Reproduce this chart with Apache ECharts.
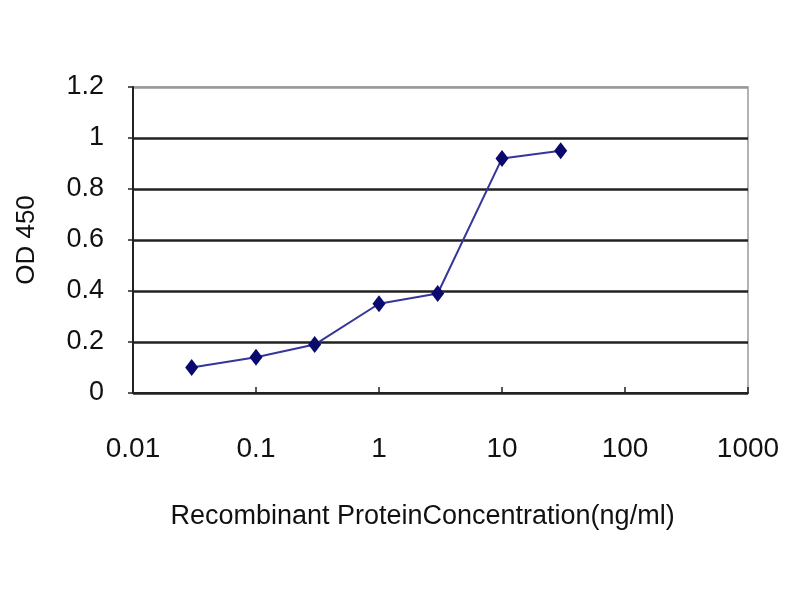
<!DOCTYPE html>
<html>
<head>
<meta charset="utf-8">
<script src="https://cdn.jsdelivr.net/npm/echarts@6/dist/echarts.min.js"></script>
<style>
  html, body { margin: 0; padding: 0; background: #fff; }
  #chart-container { width: 800px; height: 600px; }
</style>
</head>
<body>
<div id="chart-container"></div>
<script>
// concentration (ng/ml) and OD 450 readings
var concentration = [0.03, 0.1, 0.3, 1, 3, 10, 30];
var od450 = [0.10, 0.14, 0.19, 0.35, 0.39, 0.92, 0.95];
var xTickLabels = ['0.01', '0.1', '1', '10', '100', '1000'];
var yTickLabels = ['0', '0.2', '0.4', '0.6', '0.8', '1', '1.2'];

var points = [];
for (var i = 0; i < concentration.length; i++) {
    points.push([concentration[i], od450[i]]);
}

var chart = echarts.init(document.getElementById('chart-container'));
var font = 'Liberation Sans, Arial, sans-serif';

var option = {
    backgroundColor: '#fff',
    animation: false,
    grid: {
        left: 133,
        right: 52,
        top: 87,
        bottom: 207,
        show: true,
        borderColor: '#999',
        borderWidth: 1.5,
        backgroundColor: '#fff'
    },
    xAxis: {
        type: 'log',
        logBase: 10,
        min: 0.01,
        max: 1000,
        name: 'Recombinant ProteinConcentration(ng/ml)',
        nameLocation: 'middle',
        nameGap: 110,
        nameTextStyle: { fontFamily: font, fontSize: 27, color: '#111', padding: [0, 36, 0, 0] },
        axisLine: { lineStyle: { color: '#222', width: 2 } },
        axisTick: { show: true, inside: true, length: 6, lineStyle: { color: '#222', width: 1.5 } },
        axisLabel: {
            margin: 42,
            fontFamily: font,
            fontSize: 28,
            color: '#111',
            formatter: function (v) {
                var idx = Math.round(Math.log10(v)) + 2;
                return xTickLabels[idx] !== undefined ? xTickLabels[idx] : '';
            }
        },
        splitLine: { show: false },
        minorTick: { show: false }
    },
    yAxis: {
        type: 'value',
        min: 0,
        max: 1.2,
        interval: 0.2,
        name: 'OD 450',
        nameLocation: 'middle',
        nameGap: 93,
        nameTextStyle: { fontFamily: font, fontSize: 26, color: '#111' },
        axisLine: { show: true, lineStyle: { color: '#222', width: 2 } },
        axisTick: { show: true, length: 5, lineStyle: { color: '#222', width: 1.5 } },
        axisLabel: {
            margin: 29,
            fontFamily: font,
            fontSize: 27,
            color: '#111',
            formatter: function (v) {
                return yTickLabels[Math.round(v / 0.2)];
            }
        },
        splitLine: {
            show: true,
            lineStyle: {
                color: ['#222', '#222', '#222', '#222', '#222', '#222', '#999'],
                width: 2.5
            }
        }
    },
    series: [
        {
            name: 'OD 450',
            type: 'line',
            data: points,
            symbol: 'diamond',
            symbolSize: [13, 17],
            lineStyle: { color: '#35359a', width: 2 },
            itemStyle: { color: '#0a0a6e' }
        }
    ]
};

chart.setOption(option);
window.addEventListener('resize', chart.resize);
</script>
</body>
</html>
